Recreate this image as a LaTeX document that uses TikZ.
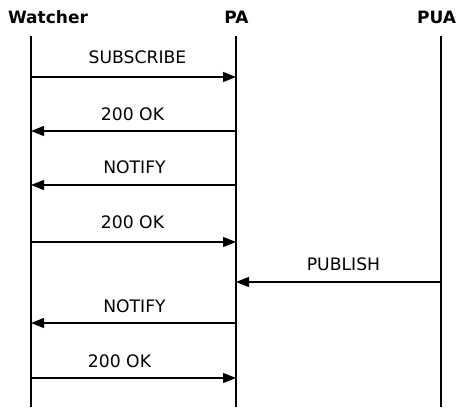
\documentclass[tikz,border=0pt]{standalone}
\usepackage{fontspec}
\setmainfont{DejaVu Sans}
\usetikzlibrary{arrows.meta}
\begin{document}
\begin{tikzpicture}[x=1pt,y=1pt,
  lifeline/.style={line width=1.3pt},
  msg/.style={line width=1.3pt,-{Triangle[length=13pt,width=10pt]}},
  msglabel/.style={anchor=base,inner sep=0pt,font=\fontsize{17.2}{20}\selectfont},
  header/.style={anchor=base,inner sep=0pt,font=\fontsize{17}{20}\selectfont\bfseries}]
\useasboundingbox (0,0) rectangle (457,-407);
% headers
\node[header] (hW) at (48,-23) {Watcher};
\node[header] (hP) at (236.5,-23) {PA};
\node[header] (hU) at (436.5,-23) {PUA};
% lifeline ends
\coordinate (Wt) at (31,-36);  \coordinate (Wb) at (31,-407);
\coordinate (Pt) at (236,-36); \coordinate (Pb) at (236,-407);
\coordinate (Ut) at (441,-36); \coordinate (Ub) at (441,-407);
\draw[lifeline] (Wt) -- (Wb);
\draw[lifeline] (Pt) -- (Pb);
\draw[lifeline] (Ut) -- (Ub);
% message anchors
\foreach \n/\y in {1/77,2/131,3/185,4/242,5/282,6/323,7/378}{
  \coordinate (W\n) at (31,-\y);
  \coordinate (P\n) at (236,-\y);
  \coordinate (U\n) at (441,-\y);
}
\draw[msg] (W1) -- (P1);
\draw[msg] (P2) -- (W2);
\draw[msg] (P3) -- (W3);
\draw[msg] (W4) -- (P4);
\draw[msg] (U5) -- (P5);
\draw[msg] (P6) -- (W6);
\draw[msg] (W7) -- (P7);
% labels
\node[msglabel] (l1) at (137.5,-63) {SUBSCRIBE};
\node[msglabel] (l2) at (132.5,-120) {200 OK};
\node[msglabel] (l3) at (134.5,-173) {NOTIFY};
\node[msglabel] (l4) at (132.5,-228) {200 OK};
\node[msglabel] (l5) at (343.5,-270) {PUBLISH};
\node[msglabel] (l6) at (134.5,-312) {NOTIFY};
\node[msglabel] (l7) at (119.5,-367) {200 OK};
\end{tikzpicture}
\end{document}
